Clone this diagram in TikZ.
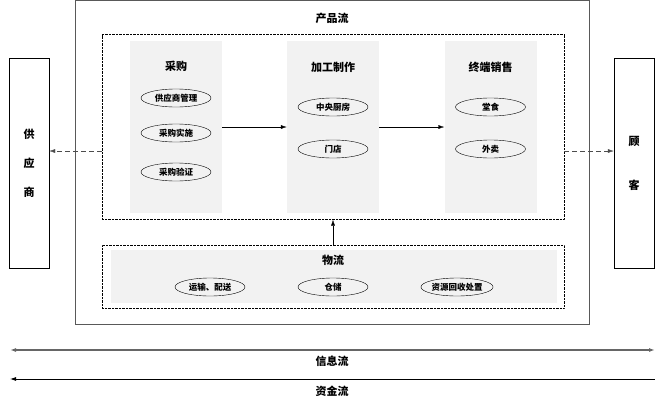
\documentclass[tikz,border=0pt]{standalone}
\usepackage{fontspec}
\newfontfamily\cjk{Noto Sans CJK SC}
\usetikzlibrary{arrows.meta,shapes.geometric}
\begin{document}
\begin{tikzpicture}[x=1pt,y=-1pt,
    every node/.style={font=\cjk\bfseries\fontsize{11}{13}\selectfont},
    box/.style={draw,rectangle,inner sep=0pt},
    dotbox/.style={draw,densely dotted,rectangle,inner sep=0pt,minimum width=462pt},
    col/.style={fill=gray!10,rectangle,inner sep=0pt,minimum width=92pt,minimum height=172pt},
    item/.style={draw,ellipse,minimum width=70pt,minimum height=18pt,inner sep=0pt,
      font=\cjk\bfseries\fontsize{8.5}{9}\selectfont},
    flow/.style={-{Latex[length=6pt,width=4pt]}},
    link/.style={flow,dash pattern=on 5pt off 3pt,gray!60!black}]
  \useasboundingbox (0,0) rectangle (666,402);
  % outer frame
  \node[box,draw=gray!70!black,line width=0.8pt,minimum width=514pt,minimum height=324pt] (prod) at (332,162.5) {};
  \node (prodlbl) at (332,18) {产品流};
  \node[dotbox,minimum height=185pt] (chain) at (333,127) {};
  % columns
  \node[col] (buy) at (176,127) {};
  \node[col] (make) at (333,127) {};
  \node[col] (sell) at (490.5,127) {};
  \node (buylbl) at (176,66) {采购};
  \node (makelbl) at (333,67) {加工制作};
  \node (selllbl) at (490.5,67) {终端销售};
  \node[item] (b1) at (176,98) {供应商管理};
  \node[item] (b2) at (176,133) {采购实施};
  \node[item] (b3) at (176,172) {采购验证};
  \node[item] (m1) at (333,107) {中央厨房};
  \node[item] (m2) at (333,149) {门店};
  \node[item] (s1) at (490.5,107) {堂食};
  \node[item] (s2) at (490.5,149) {外卖};
  \draw[flow] (buy) -- (make);
  \draw[flow] (make) -- (sell);
  % supplier and customer
  \node[box,minimum width=40pt,minimum height=210pt,align=center] (sup) at (29,163)
    {供\\[16pt]应\\[16pt]商};
  \node[box,minimum width=40pt,minimum height=210pt,align=center] (cust) at (634,163)
    {顾\\[31pt]客};
  \draw[link] (chain.west |- 0,151) -- (sup.east |- 0,151);
  \draw[link] (chain.east |- 0,151) -- (cust.west |- 0,151);
  % logistics
  \node[dotbox,minimum height=63pt] (logi) at (333,276.5) {};
  \node[fill=gray!10,rectangle,inner sep=0pt,minimum width=446pt,minimum height=53pt] (logibg) at (334,276.5) {};
  \node (logilbl) at (333,260) {物流};
  \node[item] (l1) at (210,287) {运输、配送};
  \node[item] (l2) at (333,287) {仓储};
  \node[item] (l3) at (457,287) {资源回收处置};
  \draw[flow] (logi.north) -- (chain.south);
  % information and capital flows
  \coordinate (i1) at (10,350);
  \coordinate (i2) at (655,350);
  \coordinate (c1) at (10,379);
  \coordinate (c2) at (655,379);
  \draw[{Latex[length=6pt,width=4pt]}-{Latex[length=6pt,width=4pt]},gray!80!black,line width=1.2pt] (i1) -- (i2);
  \node (infolbl) at (332,361) {信息流};
  \draw[{Latex[length=6pt,width=4pt]}-,line width=0.8pt] (c1) -- (c2);
  \node (caplbl) at (332,391) {资金流};
\end{tikzpicture}
\end{document}
